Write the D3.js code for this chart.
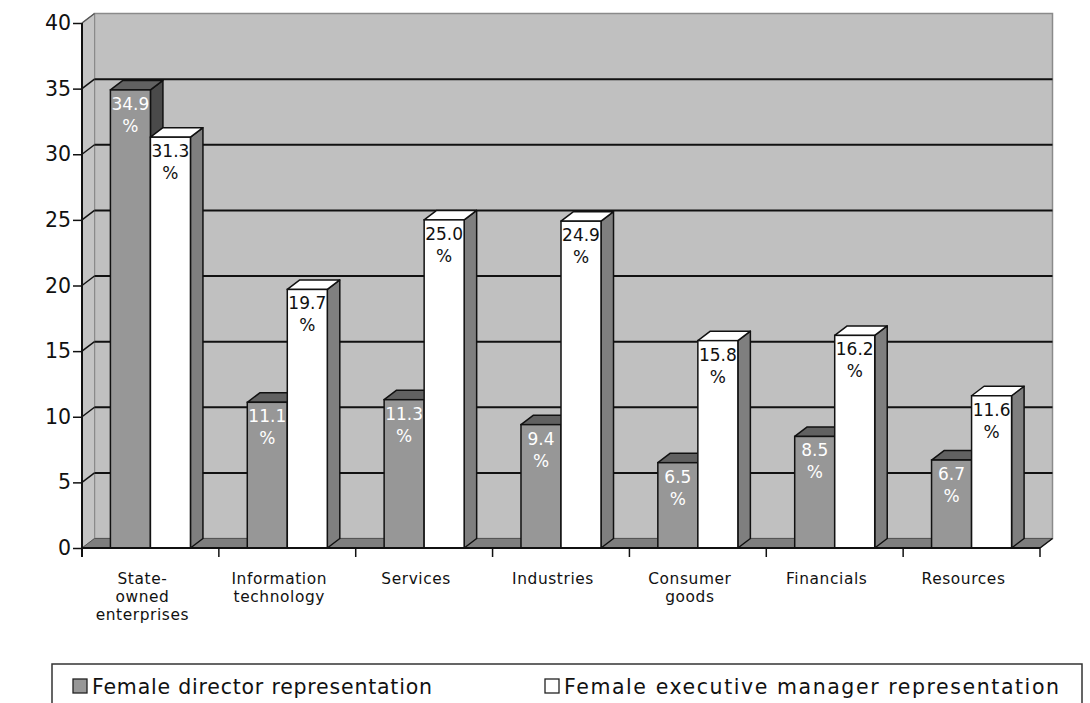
<!DOCTYPE html>
<html>
<head>
<meta charset="utf-8">
<script src="https://cdn.jsdelivr.net/npm/d3@7"></script>
<style>
  html, body { margin: 0; padding: 0; background: #fff; }
  svg { display: block; font-family: "DejaVu Sans", "Open Sans", sans-serif; }
</style>
</head>
<body>
<svg id="chart" width="1090" height="703"></svg>
<script>
// ---- data ----
const categories = ["State-owned enterprises", "Information technology", "Services", "Industries", "Consumer goods", "Financials", "Resources"];
const categoryLines = [["State-", "owned", "enterprises"], ["Information", "technology"], ["Services"], ["Industries"], ["Consumer", "goods"], ["Financials"], ["Resources"]];
const seriesNames = ["Female director representation", "Female executive manager representation"];
const directorValues = [34.9, 11.1, 11.3, 9.4, 6.5, 8.5, 6.7];
const executiveValues = [31.3, 19.7, 25.0, 24.9, 15.8, 16.2, 11.6];
const yTicks = [0, 5, 10, 15, 20, 25, 30, 35, 40];

// ---- layout ----
const svg = d3.select("#chart");
const plot = { left: 82, right: 1040, top: 23, bottom: 548 };
const depth = { dx: 12.5, dy: -9.5 };

const x = d3.scaleBand().domain(categories).range([plot.left, plot.right]).paddingInner(0).paddingOuter(0);
const x1 = d3.scaleBand().domain(seriesNames).range([0, x.bandwidth()]).paddingInner(0).paddingOuter(0.71);
const y = d3.scaleLinear().domain([0, 40]).range([plot.bottom, plot.top]);

const styles = [
  { front: "#979797", top: "#616161", side: "#4a4a4a", label: "#ffffff" },
  { front: "#ffffff", top: "#ffffff", side: "#7f7f7f", label: "#111111" }
];

const pts = a => a.map(p => p.join(",")).join(" ");
const g = svg.append("g");

// back wall
g.append("polygon")
  .attr("points", pts([
    [plot.left + depth.dx, y(40) + depth.dy], [plot.right + depth.dx, y(40) + depth.dy],
    [plot.right + depth.dx, y(0) + depth.dy], [plot.left + depth.dx, y(0) + depth.dy]]))
  .attr("fill", "#c0c0c0").attr("stroke", "#8a8a8a").attr("stroke-width", 1.5);

// side wall
g.append("polygon")
  .attr("points", pts([
    [plot.left, y(40)], [plot.left + depth.dx, y(40) + depth.dy],
    [plot.left + depth.dx, y(0) + depth.dy], [plot.left, y(0)]]))
  .attr("fill", "#c4c4c4").attr("stroke", "#8a8a8a").attr("stroke-width", 1);

// floor
g.append("polygon")
  .attr("points", pts([
    [plot.left, y(0)], [plot.left + depth.dx, y(0) + depth.dy],
    [plot.right + depth.dx, y(0) + depth.dy], [plot.right, y(0)]]))
  .attr("fill", "#7e7e7e").attr("stroke", "#555").attr("stroke-width", 1);

// gridlines
const gridTicks = yTicks.filter(t => t > 0 && t < 40);
g.selectAll("line.grid").data(gridTicks).join("line")
  .attr("class", "grid")
  .attr("x1", plot.left + depth.dx).attr("x2", plot.right + depth.dx)
  .attr("y1", d => y(d) + depth.dy).attr("y2", d => y(d) + depth.dy)
  .attr("stroke", "#111").attr("stroke-width", 2);
g.selectAll("line.gridside").data(yTicks.filter(t => t > 0)).join("line")
  .attr("class", "gridside")
  .attr("x1", plot.left).attr("x2", plot.left + depth.dx)
  .attr("y1", d => y(d)).attr("y2", d => y(d) + depth.dy)
  .attr("stroke", d => d === 40 ? "#555" : "#111").attr("stroke-width", 1.5);

// bars
const barData = [];
categories.forEach((c, i) => {
  [directorValues[i], executiveValues[i]].forEach((v, s) => {
    barData.push({ cat: c, series: seriesNames[s], s, v });
  });
});

const bars = g.selectAll("g.bar").data(barData).join("g").attr("class", "bar");
bars.each(function(d) {
  const sel = d3.select(this);
  const x0 = x(d.cat) + x1(d.series);
  const xr = x0 + x1.bandwidth();
  const yt = y(d.v), yb = y(0);
  const st = styles[d.s];
  sel.append("polygon")
    .attr("points", pts([[xr, yt], [xr + depth.dx, yt + depth.dy], [xr + depth.dx, yb + depth.dy], [xr, yb]]))
    .attr("fill", st.side).attr("stroke", "#111").attr("stroke-width", 1.5).attr("stroke-linejoin", "round");
  sel.append("polygon")
    .attr("points", pts([[x0, yt], [x0 + depth.dx, yt + depth.dy], [xr + depth.dx, yt + depth.dy], [xr, yt]]))
    .attr("fill", st.top).attr("stroke", "#111").attr("stroke-width", 1.5).attr("stroke-linejoin", "round");
  sel.append("rect")
    .attr("x", x0).attr("y", yt).attr("width", x1.bandwidth()).attr("height", yb - yt)
    .attr("fill", st.front).attr("stroke", "#111").attr("stroke-width", 1.5);
  const cx = x0 + x1.bandwidth() / 2;
  sel.append("text").attr("text-anchor", "middle").attr("fill", st.label)
    .style("font-size", "17px").attr("x", cx).attr("y", yt + 20).text(d.v.toFixed(1));
  sel.append("text").attr("text-anchor", "middle").attr("fill", st.label)
    .style("font-size", "17px").attr("x", cx).attr("y", yt + 42).text("%");
});

// y axis
const yAxis = d3.axisLeft(y).tickValues(yTicks).tickSize(9).tickPadding(2).tickFormat(d3.format("d"));
const ya = svg.append("g").attr("transform", `translate(${plot.left},0)`).call(yAxis);
ya.select(".domain").remove();
ya.selectAll(".tick line").attr("stroke", "#111").attr("stroke-width", 1.5);
ya.selectAll(".tick text").style("font-size", "20.5px").attr("fill", "#111")
  .style("font-family", "'DejaVu Sans', sans-serif");
svg.append("line")
  .attr("x1", plot.left).attr("x2", plot.left)
  .attr("y1", y(40)).attr("y2", y(0) + 9)
  .attr("stroke", "#111").attr("stroke-width", 2);

// x axis line
svg.append("line")
  .attr("x1", plot.left).attr("x2", plot.right)
  .attr("y1", y(0)).attr("y2", y(0))
  .attr("stroke", "#111").attr("stroke-width", 2);
svg.append("line")
  .attr("x1", plot.right).attr("x2", plot.right + depth.dx)
  .attr("y1", y(0)).attr("y2", y(0) + depth.dy)
  .attr("stroke", "#111").attr("stroke-width", 1.5);

// x ticks at band boundaries
const boundaries = categories.map(c => x(c)).concat([x(categories[categories.length - 1]) + x.bandwidth()]);
svg.selectAll("line.xtick").data(boundaries).join("line")
  .attr("class", "xtick")
  .attr("x1", d => d).attr("x2", d => d)
  .attr("y1", y(0)).attr("y2", y(0) + 9)
  .attr("stroke", "#111").attr("stroke-width", 1.5);

// category labels (one text per line)
const catLineData = [];
categories.forEach((c, i) => categoryLines[i].forEach((line, k) => catLineData.push({ c, line, k })));
svg.selectAll("text.cat").data(catLineData).join("text")
  .attr("class", "cat")
  .attr("text-anchor", "middle")
  .attr("fill", "#111")
  .style("font-size", "15.4px")
  .style("letter-spacing", "0.6px")
  .attr("x", d => x(d.c) + x.bandwidth() / 2 - 8)
  .attr("y", d => 584 + d.k * 18.2)
  .text(d => d.line);

// legend
const lg = svg.append("g");
lg.append("rect").attr("x", 52).attr("y", 664).attr("width", 1030).attr("height", 60)
  .attr("fill", "#fff").attr("stroke", "#333").attr("stroke-width", 1.5);
const legendX = [73, 545];
const legendWidths = [340, 495];
seriesNames.forEach((name, i) => {
  lg.append("rect").attr("x", legendX[i]).attr("y", 679).attr("width", 14).attr("height", 14)
    .attr("fill", styles[i].front).attr("stroke", "#222").attr("stroke-width", 1.3);
  lg.append("text").attr("x", legendX[i] + 19).attr("y", 694)
    .attr("fill", "#111").style("font-size", "20.5px")
    .attr("textLength", legendWidths[i]).attr("lengthAdjust", "spacing")
    .text(name);
});
</script>
</body>
</html>
